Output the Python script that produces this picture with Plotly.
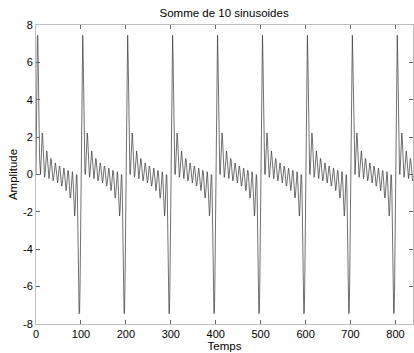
import plotly.graph_objects as go

# Signal amplitude, one sample per time unit (t = 0 .. 839)
amplitude = [
    0,3.33,5.97,7.4,7.45,6.31,4.45,2.45,0.87,0.03,0,0.56,1.35,1.99,2.22,1.96,1.35,0.63,0.07,-0.15,
    0,0.42,0.89,1.22,1.26,1,0.56,0.1,-0.19,-0.22,0,0.36,0.69,0.86,0.79,0.51,0.13,-0.19,-0.34,-0.26,
    0,0.32,0.56,0.62,0.47,0.16,-0.18,-0.41,-0.45,-0.29,0,0.29,0.45,0.41,0.18,-0.16,-0.47,-0.62,-0.56,-0.32,
    0,0.26,0.34,0.19,-0.13,-0.51,-0.79,-0.86,-0.69,-0.36,0,0.22,0.19,-0.1,-0.56,-1,-1.26,-1.22,-0.89,-0.42,
    0,0.15,-0.07,-0.63,-1.35,-1.96,-2.22,-1.99,-1.35,-0.56,0,-0.03,-0.87,-2.45,-4.45,-6.31,-7.45,-7.4,-5.97,-3.33,
    0,3.33,5.97,7.4,7.45,6.31,4.45,2.45,0.87,0.03,0,0.56,1.35,1.99,2.22,1.96,1.35,0.63,0.07,-0.15,
    0,0.42,0.89,1.22,1.26,1,0.56,0.1,-0.19,-0.22,0,0.36,0.69,0.86,0.79,0.51,0.13,-0.19,-0.34,-0.26,
    0,0.32,0.56,0.62,0.47,0.16,-0.18,-0.41,-0.45,-0.29,0,0.29,0.45,0.41,0.18,-0.16,-0.47,-0.62,-0.56,-0.32,
    0,0.26,0.34,0.19,-0.13,-0.51,-0.79,-0.86,-0.69,-0.36,0,0.22,0.19,-0.1,-0.56,-1,-1.26,-1.22,-0.89,-0.42,
    0,0.15,-0.07,-0.63,-1.35,-1.96,-2.22,-1.99,-1.35,-0.56,0,-0.03,-0.87,-2.45,-4.45,-6.31,-7.45,-7.4,-5.97,-3.33,
    0,3.33,5.97,7.4,7.45,6.31,4.45,2.45,0.87,0.03,0,0.56,1.35,1.99,2.22,1.96,1.35,0.63,0.07,-0.15,
    0,0.42,0.89,1.22,1.26,1,0.56,0.1,-0.19,-0.22,0,0.36,0.69,0.86,0.79,0.51,0.13,-0.19,-0.34,-0.26,
    0,0.32,0.56,0.62,0.47,0.16,-0.18,-0.41,-0.45,-0.29,0,0.29,0.45,0.41,0.18,-0.16,-0.47,-0.62,-0.56,-0.32,
    0,0.26,0.34,0.19,-0.13,-0.51,-0.79,-0.86,-0.69,-0.36,0,0.22,0.19,-0.1,-0.56,-1,-1.26,-1.22,-0.89,-0.42,
    0,0.15,-0.07,-0.63,-1.35,-1.96,-2.22,-1.99,-1.35,-0.56,0,-0.03,-0.87,-2.45,-4.45,-6.31,-7.45,-7.4,-5.97,-3.33,
    0,3.33,5.97,7.4,7.45,6.31,4.45,2.45,0.87,0.03,0,0.56,1.35,1.99,2.22,1.96,1.35,0.63,0.07,-0.15,
    0,0.42,0.89,1.22,1.26,1,0.56,0.1,-0.19,-0.22,0,0.36,0.69,0.86,0.79,0.51,0.13,-0.19,-0.34,-0.26,
    0,0.32,0.56,0.62,0.47,0.16,-0.18,-0.41,-0.45,-0.29,0,0.29,0.45,0.41,0.18,-0.16,-0.47,-0.62,-0.56,-0.32,
    0,0.26,0.34,0.19,-0.13,-0.51,-0.79,-0.86,-0.69,-0.36,0,0.22,0.19,-0.1,-0.56,-1,-1.26,-1.22,-0.89,-0.42,
    0,0.15,-0.07,-0.63,-1.35,-1.96,-2.22,-1.99,-1.35,-0.56,0,-0.03,-0.87,-2.45,-4.45,-6.31,-7.45,-7.4,-5.97,-3.33,
    0,3.33,5.97,7.4,7.45,6.31,4.45,2.45,0.87,0.03,0,0.56,1.35,1.99,2.22,1.96,1.35,0.63,0.07,-0.15,
    0,0.42,0.89,1.22,1.26,1,0.56,0.1,-0.19,-0.22,0,0.36,0.69,0.86,0.79,0.51,0.13,-0.19,-0.34,-0.26,
    0,0.32,0.56,0.62,0.47,0.16,-0.18,-0.41,-0.45,-0.29,0,0.29,0.45,0.41,0.18,-0.16,-0.47,-0.62,-0.56,-0.32,
    0,0.26,0.34,0.19,-0.13,-0.51,-0.79,-0.86,-0.69,-0.36,0,0.22,0.19,-0.1,-0.56,-1,-1.26,-1.22,-0.89,-0.42,
    0,0.15,-0.07,-0.63,-1.35,-1.96,-2.22,-1.99,-1.35,-0.56,0,-0.03,-0.87,-2.45,-4.45,-6.31,-7.45,-7.4,-5.97,-3.33,
    0,3.33,5.97,7.4,7.45,6.31,4.45,2.45,0.87,0.03,0,0.56,1.35,1.99,2.22,1.96,1.35,0.63,0.07,-0.15,
    0,0.42,0.89,1.22,1.26,1,0.56,0.1,-0.19,-0.22,0,0.36,0.69,0.86,0.79,0.51,0.13,-0.19,-0.34,-0.26,
    0,0.32,0.56,0.62,0.47,0.16,-0.18,-0.41,-0.45,-0.29,0,0.29,0.45,0.41,0.18,-0.16,-0.47,-0.62,-0.56,-0.32,
    0,0.26,0.34,0.19,-0.13,-0.51,-0.79,-0.86,-0.69,-0.36,0,0.22,0.19,-0.1,-0.56,-1,-1.26,-1.22,-0.89,-0.42,
    0,0.15,-0.07,-0.63,-1.35,-1.96,-2.22,-1.99,-1.35,-0.56,0,-0.03,-0.87,-2.45,-4.45,-6.31,-7.45,-7.4,-5.97,-3.33,
    0,3.33,5.97,7.4,7.45,6.31,4.45,2.45,0.87,0.03,0,0.56,1.35,1.99,2.22,1.96,1.35,0.63,0.07,-0.15,
    0,0.42,0.89,1.22,1.26,1,0.56,0.1,-0.19,-0.22,0,0.36,0.69,0.86,0.79,0.51,0.13,-0.19,-0.34,-0.26,
    0,0.32,0.56,0.62,0.47,0.16,-0.18,-0.41,-0.45,-0.29,0,0.29,0.45,0.41,0.18,-0.16,-0.47,-0.62,-0.56,-0.32,
    0,0.26,0.34,0.19,-0.13,-0.51,-0.79,-0.86,-0.69,-0.36,0,0.22,0.19,-0.1,-0.56,-1,-1.26,-1.22,-0.89,-0.42,
    0,0.15,-0.07,-0.63,-1.35,-1.96,-2.22,-1.99,-1.35,-0.56,0,-0.03,-0.87,-2.45,-4.45,-6.31,-7.45,-7.4,-5.97,-3.33,
    0,3.33,5.97,7.4,7.45,6.31,4.45,2.45,0.87,0.03,0,0.56,1.35,1.99,2.22,1.96,1.35,0.63,0.07,-0.15,
    0,0.42,0.89,1.22,1.26,1,0.56,0.1,-0.19,-0.22,0,0.36,0.69,0.86,0.79,0.51,0.13,-0.19,-0.34,-0.26,
    0,0.32,0.56,0.62,0.47,0.16,-0.18,-0.41,-0.45,-0.29,0,0.29,0.45,0.41,0.18,-0.16,-0.47,-0.62,-0.56,-0.32,
    0,0.26,0.34,0.19,-0.13,-0.51,-0.79,-0.86,-0.69,-0.36,0,0.22,0.19,-0.1,-0.56,-1,-1.26,-1.22,-0.89,-0.42,
    0,0.15,-0.07,-0.63,-1.35,-1.96,-2.22,-1.99,-1.35,-0.56,0,-0.03,-0.87,-2.45,-4.45,-6.31,-7.45,-7.4,-5.97,-3.33,
    0,3.33,5.97,7.4,7.45,6.31,4.45,2.45,0.87,0.03,0,0.56,1.35,1.99,2.22,1.96,1.35,0.63,0.07,-0.15,
    0,0.42,0.89,1.22,1.26,1,0.56,0.1,-0.19,-0.22,0,0.36,0.69,0.86,0.79,0.51,0.13,-0.19,-0.34,-0.26,
]
time = list(range(len(amplitude)))

x_ticks = [0, 100, 200, 300, 400, 500, 600, 700, 800]
y_ticks = [-8, -6, -4, -2, 0, 2, 4, 6, 8]

title_text = "Somme de 10 sinusoides"
x_label = "Temps"
y_label = "Amplitude"

FONT = "Liberation Sans, Arial, sans-serif"

fig = go.Figure()
fig.add_trace(go.Scatter(
    x=time, y=amplitude, mode="lines",
    line=dict(color="#333333", width=0.7),
    hoverinfo="skip", showlegend=False,
))

axis_common = dict(
    showgrid=False, zeroline=False,
    showline=True, linecolor="#bdbdbd", linewidth=1,
    mirror="ticks", ticks="inside", ticklen=4, tickcolor="#666666", tickwidth=1,
    tickfont=dict(family=FONT, size=11, color="#000000"),
)

fig.update_layout(
    width=414, height=353,
    margin=dict(l=36, r=1, t=25, b=29, pad=0),
    paper_bgcolor="white", plot_bgcolor="white",
    font=dict(family=FONT, size=12, color="#000000"),
    title=dict(text=title_text, x=0.5413, xanchor="center", y=0.963, yanchor="middle",
               font=dict(family=FONT, size=11.5, color="#000000")),
    xaxis=dict(range=[0, 839], tickvals=x_ticks, ticktext=[str(v) for v in x_ticks],
               title=dict(text=x_label, standoff=0, font=dict(family=FONT, size=11.5)),
               automargin=False, **axis_common),
    yaxis=dict(range=[-8, 8], tickvals=y_ticks, ticktext=[str(v) for v in y_ticks],
               title=dict(text=y_label, standoff=2, font=dict(family=FONT, size=11.5)),
               automargin=False, **axis_common),
)

fig.write_html(
    "out.html",
    config={"displayModeBar": False, "staticPlot": True},
    post_script="document.body.style.margin='0px';document.body.style.padding='0px';",
)
